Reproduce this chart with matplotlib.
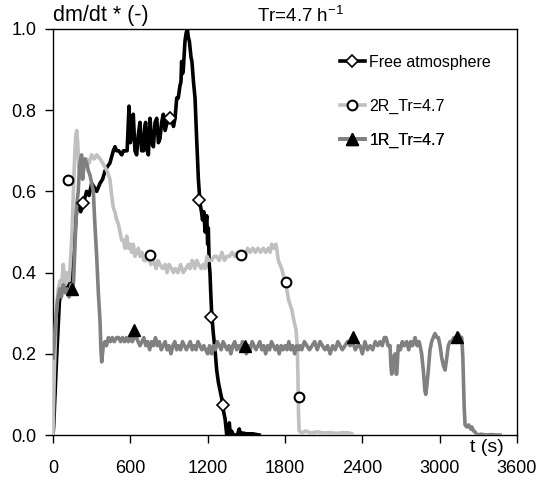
import matplotlib
matplotlib.use("Agg")
import matplotlib.pyplot as plt
from matplotlib.lines import Line2D

plt.rcParams['font.family'] = ['Liberation Sans', 'DejaVu Sans']
plt.rcParams['mathtext.default'] = 'regular'

# Free atmosphere run (black)
fa_t = [0, 5, 28, 50, 80, 110, 140, 150, 160, 171, 185, 196, 215, 235, 261, 280, 300, 320,
        339, 365, 385, 403, 420, 442, 468, 481, 494, 510, 533, 546, 559, 575, 590, 600,
        610, 623, 636, 649, 662, 675, 688, 701, 712, 719, 730, 740, 753, 766, 779, 792,
        805, 818, 830, 843, 856, 870, 885, 900, 920, 935, 947, 960, 972, 985, 993, 998,
        1005, 1011, 1024, 1033, 1042, 1050, 1058, 1071, 1078, 1090, 1102, 1112, 1120,
        1128, 1141, 1152, 1160, 1170, 1180, 1193, 1200, 1205, 1212, 1218, 1224, 1231,
        1244, 1257, 1270, 1283, 1296, 1309, 1322, 1335, 1348, 1360, 1368, 1376, 1385,
        1400, 1430, 1445, 1455, 1470, 1500, 1550, 1600]
fa_v = [0.0, 0.02, 0.19, 0.33, 0.37, 0.36, 0.38, 0.41, 0.46, 0.50, 0.56, 0.57, 0.55, 0.57,
        0.60, 0.59, 0.62, 0.61, 0.60, 0.62, 0.63, 0.65, 0.66, 0.67, 0.70, 0.71, 0.70,
        0.70, 0.69, 0.70, 0.70, 0.70, 0.81, 0.72, 0.74, 0.79, 0.70, 0.69, 0.74, 0.77,
        0.70, 0.70, 0.76, 0.77, 0.70, 0.69, 0.78, 0.72, 0.71, 0.77, 0.78, 0.72, 0.73,
        0.77, 0.79, 0.75, 0.77, 0.77, 0.78, 0.76, 0.78, 0.83, 0.83, 0.86, 0.87, 0.92,
        0.89, 0.90, 0.97, 0.99, 1.0, 0.98, 0.97, 0.93, 0.92, 0.87, 0.83, 0.75, 0.69,
        0.63, 0.57, 0.55, 0.53, 0.55, 0.50, 0.54, 0.47, 0.51, 0.42, 0.40, 0.35, 0.30,
        0.25, 0.21, 0.16, 0.13, 0.11, 0.09, 0.06, 0.04, 0.0, 0.0, 0.03, 0.0, 0.01,
        0.0, 0.0, 0.015, 0.0, 0.005, 0.003, 0.003, 0.0]

# 2R_Tr=4.7 run (light grey)
r2_t = [0, 10, 25, 41, 55, 65, 80, 95, 110, 125, 140, 150, 158, 170, 178, 184, 192, 200,
        209, 222, 235, 248, 261, 280, 300, 320, 339, 365, 385, 403, 420, 442, 455, 468,
        480, 494, 507, 520, 533, 546, 559, 572, 585, 597, 610, 623, 636, 649, 662, 675,
        690, 705, 727, 740, 760, 780, 800, 815, 830, 850, 870, 885, 900, 920, 934, 950,
        970, 990, 1011, 1030, 1050, 1063, 1080, 1100, 1115, 1130, 1150, 1165, 1179,
        1195, 1210, 1231, 1250, 1270, 1290, 1310, 1330, 1348, 1370, 1390, 1410, 1430,
        1451, 1470, 1490, 1510, 1529, 1550, 1570, 1590, 1610, 1632, 1650, 1670, 1685,
        1697, 1715, 1730, 1740, 1748, 1761, 1774, 1790, 1813, 1830, 1852, 1870, 1885,
        1895, 1900, 1905, 1910, 1930, 1960, 2000, 2050, 2100, 2150, 2200, 2250, 2300,
        2318]
r2_v = [0.0, 0.15, 0.30, 0.36, 0.38, 0.36, 0.42, 0.37, 0.40, 0.38, 0.45, 0.52, 0.60,
        0.70, 0.74, 0.75, 0.72, 0.66, 0.65, 0.66, 0.68, 0.67, 0.68, 0.67, 0.69, 0.68,
        0.69, 0.68, 0.67, 0.66, 0.65, 0.63, 0.59, 0.56, 0.55, 0.53, 0.52, 0.50, 0.48,
        0.48, 0.46, 0.49, 0.46, 0.47, 0.45, 0.47, 0.44, 0.45, 0.46, 0.44, 0.45, 0.43,
        0.43, 0.44, 0.42, 0.43, 0.41, 0.43, 0.42, 0.41, 0.42, 0.40, 0.42, 0.41, 0.40,
        0.41, 0.40, 0.42, 0.40, 0.41, 0.42, 0.41, 0.43, 0.41, 0.43, 0.42, 0.41, 0.42,
        0.41, 0.44, 0.43, 0.43, 0.44, 0.44, 0.43, 0.45, 0.43, 0.44, 0.44, 0.45, 0.44,
        0.45, 0.44, 0.45, 0.44, 0.46, 0.45, 0.46, 0.45, 0.46, 0.45, 0.46, 0.45, 0.46,
        0.45, 0.47, 0.46, 0.47, 0.45, 0.43, 0.42, 0.41, 0.39, 0.36, 0.33, 0.31, 0.28,
        0.26, 0.22, 0.15, 0.05, 0.01, 0.005, 0.01, 0.005, 0.008, 0.005, 0.006, 0.004,
        0.006, 0.005, 0.003]

# 1R_Tr=4.7 run (dark grey)
r1_t = [0, 8, 20, 35, 54, 65, 80, 95, 110, 125, 140, 150, 160, 175, 185, 196, 205, 215,
        222, 230, 240, 248, 261, 275, 287, 300, 313, 325, 339, 352, 365, 372, 378, 390,
        403, 415, 430, 445, 460, 475, 494, 510, 525, 540, 555, 570, 585, 600, 615, 630,
        649, 660, 675, 690, 705, 720, 735, 750, 765, 780, 795, 810, 825, 840, 855, 870,
        885, 900, 915, 930, 945, 960, 975, 990, 1005, 1020, 1035, 1050, 1065, 1080,
        1095, 1110, 1125, 1140, 1155, 1170, 1185, 1200, 1215, 1230, 1245, 1260, 1275,
        1290, 1305, 1320, 1335, 1350, 1365, 1380, 1395, 1410, 1425, 1440, 1455, 1470,
        1485, 1500, 1515, 1530, 1545, 1560, 1575, 1590, 1605, 1620, 1635, 1650, 1665,
        1680, 1695, 1710, 1725, 1740, 1755, 1770, 1785, 1800, 1815, 1830, 1845, 1860,
        1875, 1890, 1905, 1916, 1930, 1950, 1970, 1990, 2010, 2030, 2050, 2072, 2090,
        2110, 2130, 2150, 2170, 2190, 2210, 2227, 2245, 2265, 2285, 2305, 2325, 2345,
        2365, 2382, 2400, 2420, 2440, 2460, 2480, 2500, 2520, 2537, 2555, 2570, 2584,
        2600, 2615, 2622, 2628, 2640, 2654, 2662, 2667, 2679, 2695, 2710, 2725, 2744,
        2760, 2775, 2790, 2809, 2825, 2840, 2848, 2860, 2873, 2885, 2892, 2900, 2912,
        2925, 2938, 2950, 2964, 2978, 2990, 3003, 3016, 3030, 3042, 3055, 3067, 3080,
        3093, 3110, 3130, 3145, 3160, 3171, 3180, 3184, 3190, 3197, 3210, 3225, 3240,
        3249, 3262, 3274, 3290, 3320, 3360, 3400, 3440, 3468]
r1_v = [0.19, 0.22, 0.28, 0.33, 0.36, 0.34, 0.37, 0.35, 0.36, 0.34, 0.37, 0.35, 0.38,
        0.50, 0.57, 0.60, 0.66, 0.68, 0.69, 0.63, 0.66, 0.68, 0.67, 0.65, 0.64, 0.62,
        0.60, 0.52, 0.44, 0.35, 0.28, 0.21, 0.18, 0.22, 0.23, 0.22, 0.24, 0.23, 0.24,
        0.23, 0.24, 0.24, 0.23, 0.24, 0.23, 0.24, 0.23, 0.24, 0.23, 0.24, 0.24, 0.23,
        0.22, 0.23, 0.24, 0.22, 0.23, 0.21, 0.23, 0.22, 0.24, 0.22, 0.23, 0.21, 0.22,
        0.23, 0.21, 0.22, 0.20, 0.22, 0.23, 0.21, 0.22, 0.21, 0.23, 0.22, 0.21, 0.22,
        0.23, 0.21, 0.22, 0.21, 0.23, 0.22, 0.21, 0.22, 0.21, 0.20, 0.22, 0.20, 0.22,
        0.21, 0.23, 0.22, 0.21, 0.23, 0.22, 0.21, 0.22, 0.20, 0.22, 0.23, 0.21, 0.22,
        0.21, 0.23, 0.22, 0.20, 0.22, 0.21, 0.23, 0.22, 0.21, 0.22, 0.23, 0.21, 0.22,
        0.20, 0.22, 0.21, 0.23, 0.22, 0.21, 0.22, 0.20, 0.22, 0.21, 0.22, 0.21, 0.23,
        0.21, 0.22, 0.20, 0.22, 0.21, 0.22, 0.21, 0.23, 0.22, 0.21, 0.22, 0.23, 0.21,
        0.23, 0.22, 0.21, 0.22, 0.20, 0.22, 0.21, 0.23, 0.22, 0.21, 0.22, 0.23, 0.22,
        0.23, 0.21, 0.22, 0.22, 0.20, 0.23, 0.21, 0.22, 0.21, 0.23, 0.22, 0.23, 0.22,
        0.24, 0.24, 0.22, 0.22, 0.17, 0.15, 0.19, 0.20, 0.15, 0.15, 0.22, 0.21, 0.23,
        0.22, 0.23, 0.21, 0.23, 0.22, 0.24, 0.22, 0.23, 0.22, 0.20, 0.16, 0.11, 0.10,
        0.12, 0.16, 0.21, 0.23, 0.24, 0.25, 0.24, 0.24, 0.22, 0.19, 0.17, 0.16, 0.19,
        0.22, 0.23, 0.23, 0.24, 0.24, 0.25, 0.24, 0.24, 0.19, 0.14, 0.07, 0.025, 0.02,
        0.025, 0.015, 0.02, 0.01, 0.008, 0.0, 0.002, 0.0, 0.001, 0.0, 0.0]

# sparse marker series
fa_mark_t = [235, 908, 1135, 1224, 1317]
fa_mark_v = [0.572, 0.78, 0.58, 0.29, 0.074]
r2_mark_t = [119, 753, 1456, 1808, 1911]
r2_mark_v = [0.627, 0.443, 0.443, 0.377, 0.094]
r1_mark_t = [145, 631, 1490, 2325, 3137]
r1_mark_v = [0.36, 0.258, 0.219, 0.242, 0.242]

labels = ['Free atmosphere', '2R_Tr=4.7', '1R_Tr=4.7']
x_ticks = [0, 600, 1200, 1800, 2400, 3000, 3600]
y_ticks = [0.0, 0.2, 0.4, 0.6, 0.8, 1.0]

c_fa, c_r2, c_r1 = 'black', '#c0c0c0', '#808080'
lw = 2.6

fig = plt.figure(figsize=(5.39, 4.80), dpi=100)
ax = fig.add_axes([0.0983, 0.0937, 0.8609, 0.8459])

ax.plot(fa_t, fa_v, color=c_fa, lw=lw, zorder=2)
ax.plot(r2_t, r2_v, color=c_r2, lw=lw, zorder=3)
ax.plot(r1_t, r1_v, color=c_r1, lw=lw, zorder=4)

ax.plot(fa_mark_t, fa_mark_v, ls='none', marker='D', ms=6.3, mfc='white', mec='black',
        mew=1.2, zorder=6)
ax.plot(r2_mark_t, r2_mark_v, ls='none', marker='o', ms=7, mfc='white', mec='black',
        mew=1.5, zorder=6)
ax.plot(r1_mark_t, r1_mark_v, ls='none', marker='^', ms=8.5, mfc='black', mec='black',
        mew=1, zorder=6)

ax.set_xlim(0, 3600)
ax.set_ylim(0, 1.0)
ax.set_xticks(x_ticks)
ax.set_yticks(y_ticks)
ax.set_yticklabels([f'{v:.1f}' for v in y_ticks])
ax.tick_params(direction='out', length=6, width=1, labelsize=13)
ax.tick_params(axis='x', pad=12)
ax.tick_params(axis='y', pad=6)
for s in ax.spines.values():
    s.set_linewidth(1.0)

fig.text(53 / 539, 1 - 16 / 480, 'dm/dt * (-)', fontsize=15.5, ha='left', va='center')
fig.text(257 / 539, 1 - 16 / 480, 'Tr=4.7 h$^{-1}$', fontsize=13.5, ha='left', va='center')
ax.text(0.935, -0.03, 't (s)', transform=ax.transAxes, fontsize=14, ha='center', va='center')

# one legend per entry so the rows can be spaced freely
handles = [
    Line2D([], [], color=c_fa, lw=lw, marker='D', ms=6.3, mfc='white', mec='black', mew=1.2),
    Line2D([], [], color=c_r2, lw=lw, marker='o', ms=7, mfc='white', mec='black', mew=1.5),
    Line2D([], [], color=c_r1, lw=lw, marker='^', ms=8.5, mfc='black', mec='black'),
]
row_y = [0.918, 0.809, 0.725]
for h, lab, y in zip(handles, labels, row_y):
    leg = ax.legend([h], [lab], loc='center left', bbox_to_anchor=(0.618, y),
                    frameon=False, fontsize=11.5, handlelength=1.56, handletextpad=0.3,
                    borderpad=0, borderaxespad=0, numpoints=1)
    ax.add_artist(leg)

fig.savefig('out.png', dpi=100)
